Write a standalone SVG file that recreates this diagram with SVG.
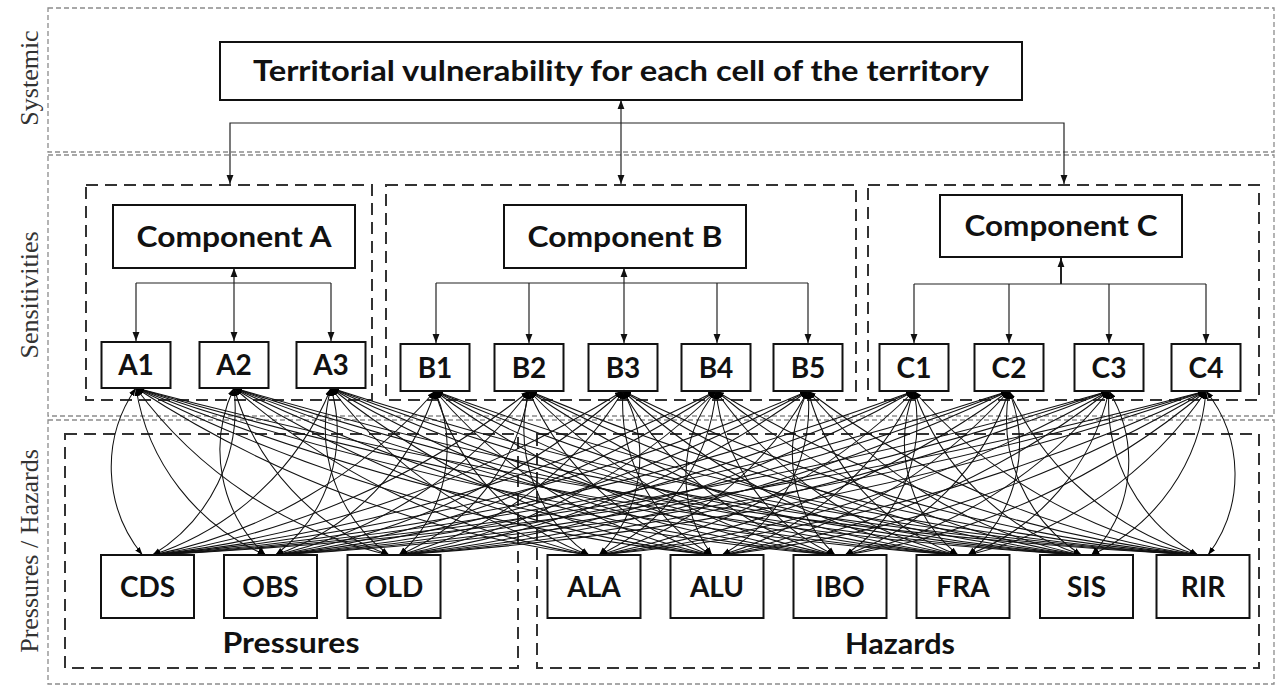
<svg xmlns="http://www.w3.org/2000/svg" width="1277" height="686" viewBox="0 0 1277 686">
<defs>
<marker id="ah" viewBox="0 0 10 10" refX="10" refY="5" markerWidth="9" markerHeight="9" markerUnits="userSpaceOnUse" orient="auto-start-reverse"><path d="M0,1.2 L10,5 L0,8.8 z" fill="#111"/></marker>
<marker id="sa" viewBox="0 0 10 10" refX="10" refY="5" markerWidth="8" markerHeight="8" markerUnits="userSpaceOnUse" orient="auto-start-reverse"><path d="M0,1.5 L10,5 L0,8.5 z" fill="#000"/></marker>
<style>
.band{fill:none;stroke:#8c8c8c;stroke-width:1.3;stroke-dasharray:5 3}
.grp{fill:none;stroke:#333;stroke-width:2;stroke-dasharray:12 7}
.box{fill:#fff;stroke:#111;stroke-width:2}
.t{font-family:Lato,"Liberation Sans",sans-serif;font-weight:700;fill:#111;text-anchor:middle}
.big{font-size:28px}
.sm{font-size:28px}
.side{font-family:"Liberation Serif","Times New Roman",serif;font-size:26px;fill:#333;text-anchor:middle}
.tc{fill:none;stroke:#222;stroke-width:1.2}
.tca{fill:none;stroke:#222;stroke-width:1.2;marker-end:url(#ah)}
.tcd{fill:none;stroke:#222;stroke-width:1.2;marker-start:url(#ah);marker-end:url(#ah)}
.m path{fill:none;stroke:#111;stroke-width:1.05;marker-start:url(#sa);marker-end:url(#sa)}
</style>
</defs>
<rect width="1277" height="686" fill="#fff"/>
<g id="bands">
<rect class="band" x="48" y="8" width="1226" height="144"/>
<rect class="band" x="48" y="155" width="1226" height="261"/>
<rect class="band" x="48" y="420" width="1226" height="264"/>
<text class="side" transform="translate(38,78) rotate(-90)">Systemic</text>
<text class="side" transform="translate(38,295) rotate(-90)">Sensitivities</text>
<text class="side" transform="translate(38,551) rotate(-90)">Pressures / Hazards</text>
</g>
<g id="groups">
<rect id="group-A" class="grp" x="86" y="185" width="286" height="215"/>
<rect id="group-B" class="grp" x="386" y="185" width="470" height="215"/>
<rect id="group-C" class="grp" x="868" y="185" width="391" height="215"/>
<rect id="group-pressures" class="grp" x="65" y="434" width="453" height="234"/>
<rect id="group-hazards" class="grp" x="537" y="434" width="722" height="234"/>
<text class="t big" x="291" y="653" textLength="137" lengthAdjust="spacingAndGlyphs">Pressures</text>
<text class="t big" x="900" y="654" textLength="110" lengthAdjust="spacingAndGlyphs">Hazards</text>
</g>
<g id="connectors">
<path class="tcd" d="M621 100 V184"/>
<path class="tca" d="M621 123 H230 V184"/>
<path class="tca" d="M621 123 H1064 V184"/>
<path class="tc" d="M136 283 H331"/>
<path class="tca" d="M136 283 V341"/>
<path class="tca" d="M331 283 V341"/>
<path class="tcd" d="M234 268 V341"/>
<path class="tc" d="M436 283 H808"/>
<path class="tca" d="M436 283 V343"/>
<path class="tca" d="M529 283 V343"/>
<path class="tca" d="M717 283 V343"/>
<path class="tca" d="M808 283 V343"/>
<path class="tcd" d="M624 268 V343"/>
<path class="tc" d="M914 284 H1206"/>
<path class="tca" d="M914 284 V343"/>
<path class="tca" d="M1009 284 V343"/>
<path class="tca" d="M1109 284 V343"/>
<path class="tca" d="M1206 284 V343"/>
<path class="tca" d="M1061 284 V258" style="stroke-width:2"/>
<g class="m">
<path d="M136 388A139 139 0 0 0 142.5 555"/>
<path d="M136 388A219 219 0 0 0 265.5 555"/>
<path d="M136 388A436 436 0 0 0 389 555"/>
<path d="M136 388A1075 1075 0 0 0 589 555"/>
<path d="M136 388A1646 1646 0 0 0 712 555"/>
<path d="M136 388A2351 2351 0 0 0 835 555"/>
<path d="M136 388A3192 3192 0 0 0 958 555"/>
<path d="M136 388A4168 4168 0 0 0 1081.5 555"/>
<path d="M136 388A5221 5221 0 0 0 1198 555"/>
<path d="M234 388A172 172 0 0 1 152.5 555"/>
<path d="M234 388A144 144 0 0 0 265.5 555"/>
<path d="M234 388A253 253 0 0 0 389 555"/>
<path d="M234 388A717 717 0 0 0 589 555"/>
<path d="M234 388A1180 1180 0 0 0 712 555"/>
<path d="M234 388A1778 1778 0 0 0 835 555"/>
<path d="M234 388A2511 2511 0 0 0 958 555"/>
<path d="M234 388A3379 3379 0 0 0 1081.5 555"/>
<path d="M234 388A4330 4330 0 0 0 1198 555"/>
<path d="M331 388A290 290 0 0 1 152.5 555"/>
<path d="M331 388A155 155 0 0 1 275.5 555"/>
<path d="M331 388A156 156 0 0 0 389 555"/>
<path d="M331 388A447 447 0 0 0 589 555"/>
<path d="M331 388A804 804 0 0 0 712 555"/>
<path d="M331 388A1295 1295 0 0 0 835 555"/>
<path d="M331 388A1922 1922 0 0 0 958 555"/>
<path d="M331 388A2683 2683 0 0 0 1081.5 555"/>
<path d="M331 388A3533 3533 0 0 0 1198 555"/>
<path d="M435 391A504 504 0 0 1 152.5 555"/>
<path d="M435 391A256 256 0 0 1 275.5 555"/>
<path d="M435 391A142 142 0 0 1 399 555"/>
<path d="M435 391A247 247 0 0 0 589 555"/>
<path d="M435 391A489 489 0 0 0 712 555"/>
<path d="M435 391A866 866 0 0 0 835 555"/>
<path d="M435 391A1379 1379 0 0 0 958 555"/>
<path d="M435 391A2026 2026 0 0 0 1081.5 555"/>
<path d="M435 391A2767 2767 0 0 0 1198 555"/>
<path d="M529 391A786 786 0 0 1 152.5 555"/>
<path d="M529 391A434 434 0 0 1 275.5 555"/>
<path d="M529 391A215 215 0 0 1 399 555"/>
<path d="M529 391A153 153 0 0 0 589 555"/>
<path d="M529 391A292 292 0 0 0 712 555"/>
<path d="M529 391A566 566 0 0 0 835 555"/>
<path d="M529 391A975 975 0 0 0 958 555"/>
<path d="M529 391A1519 1519 0 0 0 1081.5 555"/>
<path d="M529 391A2162 2162 0 0 0 1198 555"/>
<path d="M623 391A1146 1146 0 0 1 152.5 555"/>
<path d="M623 391A690 690 0 0 1 275.5 555"/>
<path d="M623 391A368 368 0 0 1 399 555"/>
<path d="M623 391A138 138 0 0 1 599 555"/>
<path d="M623 391A174 174 0 0 0 712 555"/>
<path d="M623 391A344 344 0 0 0 835 555"/>
<path d="M623 391A650 650 0 0 0 958 555"/>
<path d="M623 391A1091 1091 0 0 0 1081.5 555"/>
<path d="M623 391A1636 1636 0 0 0 1198 555"/>
<path d="M716 391A1580 1580 0 0 1 152.5 555"/>
<path d="M716 391A1022 1022 0 0 1 275.5 555"/>
<path d="M716 391A597 597 0 0 1 399 555"/>
<path d="M716 391A201 201 0 0 1 599 555"/>
<path d="M716 391A134 134 0 0 0 712 555"/>
<path d="M716 391A203 203 0 0 0 835 555"/>
<path d="M716 391A407 407 0 0 0 958 555"/>
<path d="M716 391A745 745 0 0 0 1081.5 555"/>
<path d="M716 391A1193 1193 0 0 0 1198 555"/>
<path d="M808 391A2085 2085 0 0 1 152.5 555"/>
<path d="M808 391A1426 1426 0 0 1 275.5 555"/>
<path d="M808 391A899 899 0 0 1 399 555"/>
<path d="M808 391A339 339 0 0 1 599 555"/>
<path d="M808 391A171 171 0 0 1 722 555"/>
<path d="M808 391A139 139 0 0 0 835 555"/>
<path d="M808 391A241 241 0 0 0 958 555"/>
<path d="M808 391A479 479 0 0 0 1081.5 555"/>
<path d="M808 391A831 831 0 0 0 1198 555"/>
<path d="M914 391A2760 2760 0 0 1 152.5 555"/>
<path d="M914 391A1986 1986 0 0 1 275.5 555"/>
<path d="M914 391A1341 1341 0 0 1 399 555"/>
<path d="M914 391A591 591 0 0 1 599 555"/>
<path d="M914 391A307 307 0 0 1 722 555"/>
<path d="M914 391A159 159 0 0 1 845 555"/>
<path d="M914 391A145 145 0 0 0 958 555"/>
<path d="M914 391A266 266 0 0 0 1081.5 555"/>
<path d="M914 391A507 507 0 0 0 1198 555"/>
<path d="M1009 391A3451 3451 0 0 1 152.5 555"/>
<path d="M1009 391A2572 2572 0 0 1 275.5 555"/>
<path d="M1009 391A1823 1823 0 0 1 399 555"/>
<path d="M1009 391A903 903 0 0 1 599 555"/>
<path d="M1009 391A515 515 0 0 1 722 555"/>
<path d="M1009 391A262 262 0 0 1 845 555"/>
<path d="M1009 391A144 144 0 0 1 968 555"/>
<path d="M1009 391A161 161 0 0 0 1081.5 555"/>
<path d="M1009 391A302 302 0 0 0 1198 555"/>
<path d="M1109 391A4266 4266 0 0 1 152.5 555"/>
<path d="M1109 391A3277 3277 0 0 1 275.5 555"/>
<path d="M1109 391A2416 2416 0 0 1 399 555"/>
<path d="M1109 391A1318 1318 0 0 1 599 555"/>
<path d="M1109 391A820 820 0 0 1 722 555"/>
<path d="M1109 391A457 457 0 0 1 845 555"/>
<path d="M1109 391A229 229 0 0 1 968 555"/>
<path d="M1109 391A136 136 0 0 1 1091.5 555"/>
<path d="M1109 391A174 174 0 0 0 1198 555"/>
<path d="M1206 391A5141 5141 0 0 1 152.5 555"/>
<path d="M1206 391A4045 4045 0 0 1 275.5 555"/>
<path d="M1206 391A3078 3078 0 0 1 399 555"/>
<path d="M1206 391A1806 1806 0 0 1 599 555"/>
<path d="M1206 391A1202 1202 0 0 1 722 555"/>
<path d="M1206 391A732 732 0 0 1 845 555"/>
<path d="M1206 391A398 398 0 0 1 968 555"/>
<path d="M1206 391A198 198 0 0 1 1091.5 555"/>
<path d="M1206 391A134 134 0 0 1 1208 555"/>
</g>
</g>
<g id="node-title"><rect class="box" x="220" y="42" width="802" height="58"/><text class="t big" x="621" y="81" textLength="736" lengthAdjust="spacingAndGlyphs">Territorial vulnerability for each cell of the territory</text></g>
<g id="node-compA"><rect class="box" x="113" y="205" width="242" height="63"/><text class="t big" x="234" y="247" textLength="195" lengthAdjust="spacingAndGlyphs">Component A</text></g>
<g id="node-compB"><rect class="box" x="504" y="205" width="242" height="63"/><text class="t big" x="625" y="247" textLength="195" lengthAdjust="spacingAndGlyphs">Component B</text></g>
<g id="node-compC"><rect class="box" x="940" y="195" width="242" height="62"/><text class="t big" x="1061" y="236" textLength="193" lengthAdjust="spacingAndGlyphs">Component C</text></g>
<g id="node-A1"><rect class="box" x="101.5" y="342" width="69" height="46"/><text class="t sm" x="136" y="375">A1</text></g>
<g id="node-A2"><rect class="box" x="199.5" y="342" width="69" height="46"/><text class="t sm" x="234" y="375">A2</text></g>
<g id="node-A3"><rect class="box" x="296.5" y="342" width="69" height="46"/><text class="t sm" x="331" y="375">A3</text></g>
<g id="node-B1"><rect class="box" x="400.5" y="344" width="69" height="47"/><text class="t sm" x="435" y="377.5">B1</text></g>
<g id="node-B2"><rect class="box" x="494.5" y="344" width="69" height="47"/><text class="t sm" x="529" y="377.5">B2</text></g>
<g id="node-B3"><rect class="box" x="588.5" y="344" width="69" height="47"/><text class="t sm" x="623" y="377.5">B3</text></g>
<g id="node-B4"><rect class="box" x="681.5" y="344" width="69" height="47"/><text class="t sm" x="716" y="377.5">B4</text></g>
<g id="node-B5"><rect class="box" x="773.5" y="344" width="69" height="47"/><text class="t sm" x="808" y="377.5">B5</text></g>
<g id="node-C1"><rect class="box" x="879.5" y="344" width="69" height="47"/><text class="t sm" x="914" y="377.5">C1</text></g>
<g id="node-C2"><rect class="box" x="974.5" y="344" width="69" height="47"/><text class="t sm" x="1009" y="377.5">C2</text></g>
<g id="node-C3"><rect class="box" x="1074.5" y="344" width="69" height="47"/><text class="t sm" x="1109" y="377.5">C3</text></g>
<g id="node-C4"><rect class="box" x="1171.5" y="344" width="69" height="47"/><text class="t sm" x="1206" y="377.5">C4</text></g>
<g id="node-CDS"><rect class="box" x="101" y="555" width="93" height="63"/><text class="t sm" x="147.5" y="596.5">CDS</text></g>
<g id="node-OBS"><rect class="box" x="224" y="555" width="93" height="63"/><text class="t sm" x="270.5" y="596.5">OBS</text></g>
<g id="node-OLD"><rect class="box" x="347.5" y="555" width="93" height="63"/><text class="t sm" x="394" y="596.5">OLD</text></g>
<g id="node-ALA"><rect class="box" x="547.5" y="555" width="93" height="63"/><text class="t sm" x="594" y="596.5">ALA</text></g>
<g id="node-ALU"><rect class="box" x="670.5" y="555" width="93" height="63"/><text class="t sm" x="717" y="596.5">ALU</text></g>
<g id="node-IBO"><rect class="box" x="793.5" y="555" width="93" height="63"/><text class="t sm" x="840" y="596.5">IBO</text></g>
<g id="node-FRA"><rect class="box" x="916.5" y="555" width="93" height="63"/><text class="t sm" x="963" y="596.5">FRA</text></g>
<g id="node-SIS"><rect class="box" x="1040" y="555" width="93" height="63"/><text class="t sm" x="1086.5" y="596.5">SIS</text></g>
<g id="node-RIR"><rect class="box" x="1156.5" y="555" width="93" height="63"/><text class="t sm" x="1203" y="596.5">RIR</text></g>
</svg>
